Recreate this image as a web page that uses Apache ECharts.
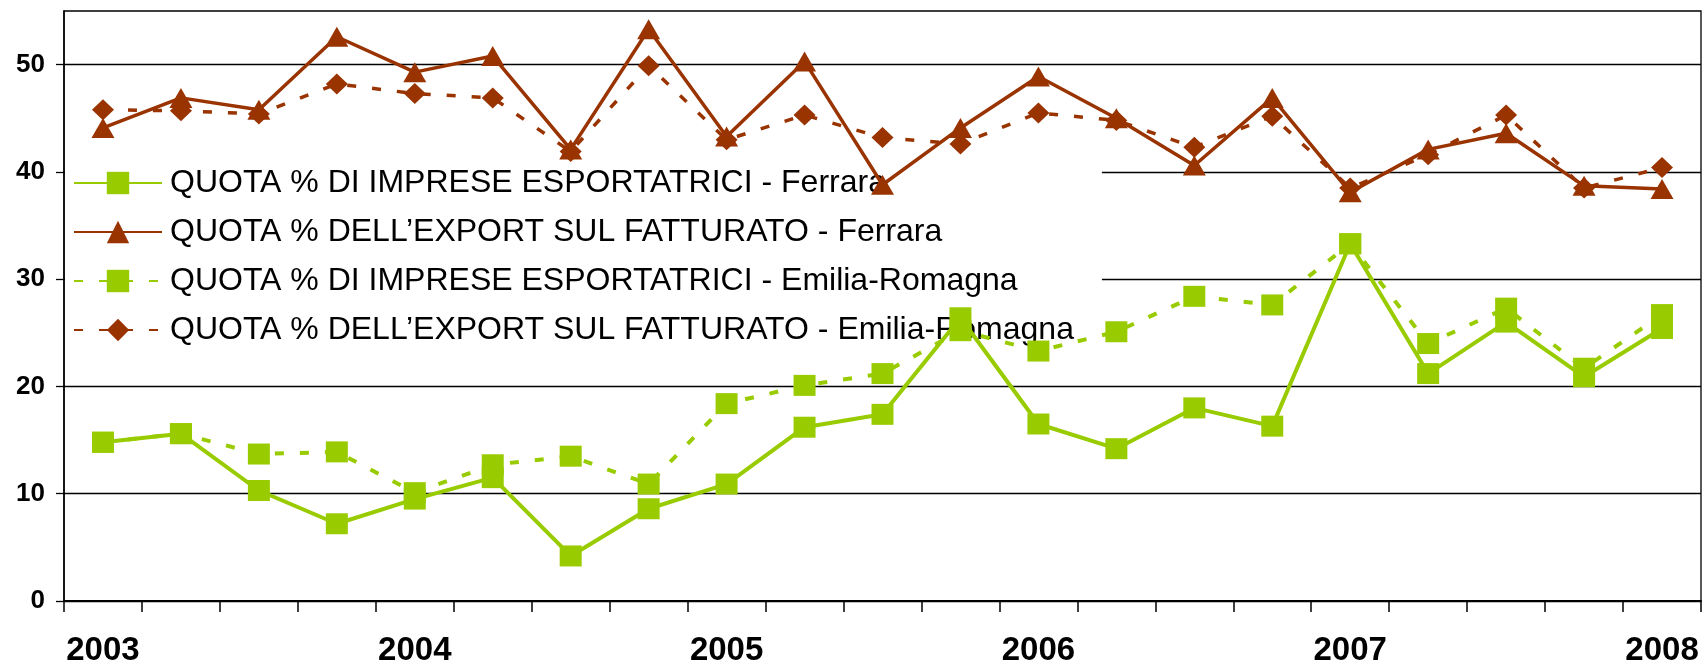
<!DOCTYPE html>
<html>
<head>
<meta charset="utf-8">
<script src="https://cdn.jsdelivr.net/npm/echarts@6/dist/echarts.min.js"></script>
<style>
html,body{margin:0;padding:0;background:#fff;}
#chart{width:1704px;height:667px;}
</style>
</head>
<body>
<div id="chart"></div>
<script>
// Quarterly periods (labels shown only for the first quarter of each year)
const periods = [
  'I 2003','II 2003','III 2003','IV 2003',
  'I 2004','II 2004','III 2004','IV 2004',
  'I 2005','II 2005','III 2005','IV 2005',
  'I 2006','II 2006','III 2006','IV 2006',
  'I 2007','II 2007','III 2007','IV 2007',
  'I 2008'
];
const yTicks = [0, 10, 20, 30, 40, 50];

const seriesNames = [
  'QUOTA % DI IMPRESE ESPORTATRICI - Ferrara',
  'QUOTA % DELL\u2019EXPORT SUL FATTURATO - Ferrara',
  'QUOTA % DI IMPRESE ESPORTATRICI - Emilia-Romagna',
  'QUOTA % DELL\u2019EXPORT SUL FATTURATO - Emilia-Romagna'
];

const impreseFerrara = [14.8, 15.6, 10.3, 7.2, 9.5, 11.5, 4.2, 8.6, 10.9, 16.2, 17.4, 26.4, 16.5, 14.2, 18.0, 16.3, 33.3, 21.2, 26.0, 20.9, 25.4];
const exportFerrara  = [44.1, 46.9, 45.8, 52.6, 49.3, 50.8, 42.1, 53.3, 43.3, 50.3, 38.8, 44.1, 48.9, 45.0, 40.6, 46.9, 38.1, 42.1, 43.6, 38.7, 38.4];
const impreseER      = [14.8, 15.6, 13.7, 13.9, 10.1, 12.7, 13.5, 10.9, 18.4, 20.1, 21.2, 25.2, 23.3, 25.1, 28.4, 27.6, 33.3, 24.0, 27.3, 21.7, 26.7];
const exportER       = [45.8, 45.7, 45.4, 48.2, 47.3, 46.9, 41.9, 49.9, 43.0, 45.3, 43.2, 42.6, 45.5, 44.8, 42.3, 45.2, 38.5, 41.6, 45.3, 38.5, 40.4];

const GREEN = '#99CC00';
const BROWN = '#993300';
const FONT = '"Liberation Sans", Arial, sans-serif';
const DASH = [9, 16];

const chart = echarts.init(document.getElementById('chart'), null, {renderer: 'canvas'});

function mkSeries(name, data, color, symbol, size, dashed, width) {
  return {
    name: name,
    type: 'line',
    data: data,
    symbol: symbol,
    symbolSize: size,
    showAllSymbol: true,
    animation: false,
    itemStyle: {color: color, borderWidth: 0},
    lineStyle: {color: color, width: width, type: dashed ? DASH : 'solid'},
    emphasis: {disabled: true},
    z: 2
  };
}

const option = {
  backgroundColor: '#ffffff',
  animation: false,
  grid: {
    left: 64, right: 3, top: 11, bottom: 62,
    show: true, borderColor: '#000', borderWidth: 1.3, backgroundColor: 'transparent'
  },
  legend: {
    orient: 'vertical',
    left: 65,
    top: 155,
    z: 1,
    padding: [12, 28, 12, 8],
    backgroundColor: '#ffffff',
    itemWidth: 88,
    itemHeight: 28,
    itemGap: 17,
    selectedMode: false,
    textStyle: {
      fontFamily: FONT, fontSize: 32, color: '#000', lineHeight: 32,
      padding: [0, 0, 0, 3]
    },
    data: seriesNames
  },
  xAxis: {
    type: 'category',
    data: periods,
    boundaryGap: true,
    axisLine: {show: true, lineStyle: {color: '#000', width: 2}},
    axisTick: {show: true, interval: 0, length: 11, lineStyle: {color: '#000', width: 1.5}},
    axisLabel: {
      interval: 3,
      margin: 33,
      fontFamily: FONT, fontSize: 33, fontWeight: 'bold', color: '#000',
      formatter: function (v) { return v.split(' ')[1]; }
    },
    splitLine: {show: false}
  },
  yAxis: {
    type: 'value',
    min: 0, max: 55, interval: 10,
    axisLine: {show: true, lineStyle: {color: '#000', width: 1.5}},
    axisTick: {show: true, length: 8, lineStyle: {color: '#000', width: 1.3}, customValues: yTicks},
    axisLabel: {
      margin: 19, customValues: yTicks,
      fontFamily: FONT, fontSize: 26, fontWeight: 'bold', color: '#000'
    },
    splitLine: {show: true, lineStyle: {color: '#000', width: 1.3}}
  },
  series: [
    mkSeries(seriesNames[0], impreseFerrara, GREEN, 'rect', [22, 21], false, 4),
    mkSeries(seriesNames[1], exportFerrara, BROWN, 'triangle', [23, 20], false, 3.5),
    mkSeries(seriesNames[2], impreseER, GREEN, 'rect', [22, 21], true, 4),
    mkSeries(seriesNames[3], exportER, BROWN, 'diamond', [22, 21], true, 3.5)
  ]
};

chart.setOption(option);
</script>
</body>
</html>
